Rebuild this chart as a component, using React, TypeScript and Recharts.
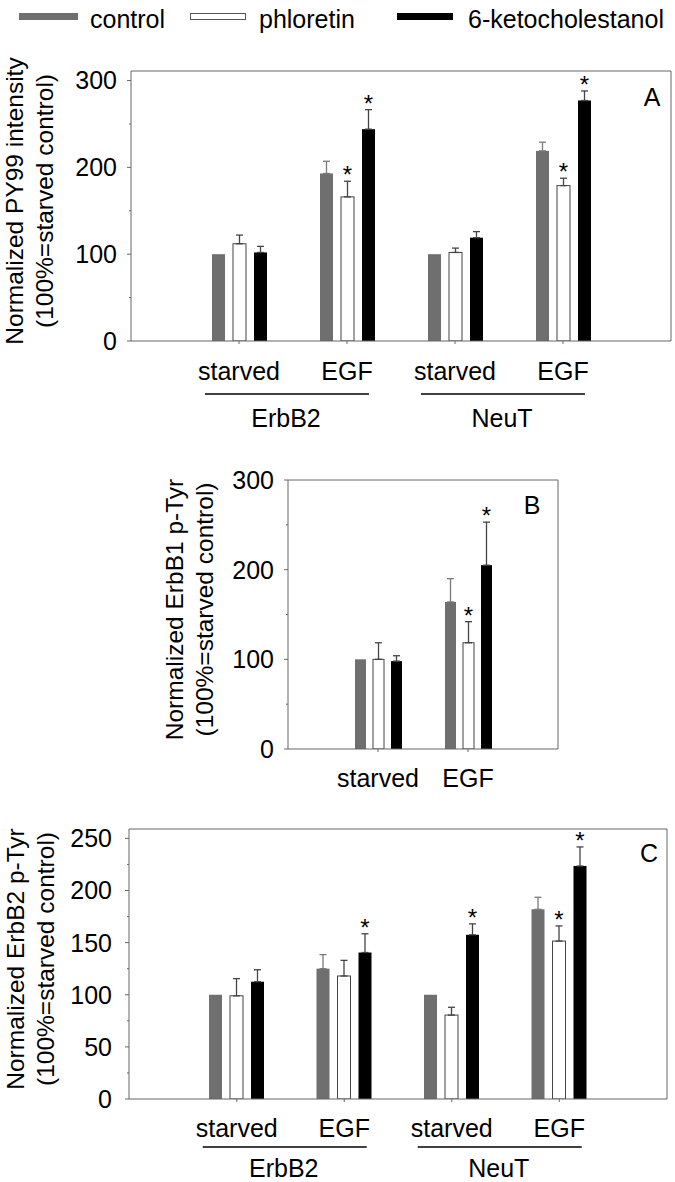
import React from 'react';
import { BarChart, Bar, XAxis, YAxis, ErrorBar, Label } from 'recharts';

const FONT = '"Liberation Sans", Arial, Helvetica, sans-serif';
const AXIS = '#666666';
const GRAY = '#6f6f6f';
const STRETCH = 1.0;
const TXT = 25;
const CHART_W = 675;

const seriesNames = ['control', 'phloretin', '6-ketocholestanol'];

// Panel A – Normalized PY99 intensity
const catsA = ['starved', 'EGF', 'starved', 'EGF'];
const groupsA = ['ErbB2', 'NeuT'];
const controlA = [100, 193, 100, 219];
const controlErrA = [null, 14, null, 10];
const phloretinA = [112, 166, 102, 179];
const phloretinErrA = [10, 18, 5, 8.5];
const ketoA = [102, 244, 119, 277];
const ketoErrA = [7, 22.5, 7, 11];
const phloretinSigA = [false, true, false, true];
const ketoSigA = [false, true, false, true];
const ticksA = [0, 50, 100, 150, 200, 250, 300];

// Panel B – Normalized ErbB1 p-Tyr
const catsB = ['starved', 'EGF'];
const controlB = [100, 164];
const controlErrB = [null, 26];
const phloretinB = [100, 118.5];
const phloretinErrB = [18.5, 23.5];
const ketoB = [98, 205];
const ketoErrB = [6, 48];
const phloretinSigB = [false, true];
const ketoSigB = [false, true];
const ticksB = [0, 50, 100, 150, 200, 250, 300];

// Panel C – Normalized ErbB2 p-Tyr
const catsC = ['starved', 'EGF', 'starved', 'EGF'];
const groupsC = ['ErbB2', 'NeuT'];
const controlC = [100, 125, 100, 182];
const controlErrC = [null, 13.5, null, 11.5];
const phloretinC = [99, 118, 80.5, 151.5];
const phloretinErrC = [16.5, 15, 7.5, 14.5];
const ketoC = [112.5, 140.5, 157.5, 223.5];
const ketoErrC = [11.5, 18, 10.5, 18.3];
const phloretinSigC = [false, false, false, true];
const ketoSigC = [false, true, true, true];
const ticksC = [0, 25, 50, 75, 100, 125, 150, 175, 200, 225, 250];

function buildRows(
  cats: string[], ctrl: number[], ctrlErr: (number | null)[],
  phl: number[], phlErr: number[], keto: number[], ketoErr: number[],
  phlSig: boolean[], ketoSig: boolean[]
) {
  return cats.map((cat, i) => ({
    cat,
    control: ctrl[i],
    controlErr: ctrlErr[i] == null ? null : [0, ctrlErr[i]],
    controlSig: false,
    phloretin: phl[i],
    phloretinErr: [0, phlErr[i]],
    phloretinSig: phlSig[i],
    keto: keto[i],
    ketoErr: [0, ketoErr[i]],
    ketoSig: ketoSig[i],
  }));
}

const rowsA = buildRows(catsA, controlA, controlErrA, phloretinA, phloretinErrA, ketoA, ketoErrA, phloretinSigA, ketoSigA);
const rowsB = buildRows(catsB, controlB, controlErrB, phloretinB, phloretinErrB, ketoB, ketoErrB, phloretinSigB, ketoSigB);
const rowsC = buildRows(catsC, controlC, controlErrC, phloretinC, phloretinErrC, ketoC, ketoErrC, phloretinSigC, ketoSigC);

const SText = ({ x, y, size, anchor = 'middle', children }: any) => (
  <text
    transform={`translate(${x},${y}) scale(${STRETCH},1)`}
    x={0}
    y={0}
    fontSize={size}
    fontFamily={FONT}
    textAnchor={anchor}
    fill="#000"
  >
    {children}
  </text>
);

const makeShape = (key: string, fill: string, stroke?: string) => (props: any) => {
  const { x, y, width, height, payload } = props;
  const v = payload[key];
  const err = payload[key + 'Err'];
  const sig = payload[key + 'Sig'];
  const ppu = v ? height / v : 0;
  const errTop = y - (err ? err[1] : 0) * ppu;
  return (
    <g>
      <rect
        x={x}
        y={y}
        width={width}
        height={height}
        fill={fill}
        stroke={stroke || 'none'}
        strokeWidth={1}
      />
      {sig && (
        <text
          x={x + width / 2}
          y={errTop + 2}
          textAnchor="middle"
          fontSize={24}
          fontFamily={FONT}
          fill="#000"
        >
          *
        </text>
      )}
    </g>
  );
};

const makeYTick = (labelStep: number, gap: number) => (props: any) => {
  const { x, y, payload } = props;
  const major = payload.value % labelStep === 0;
  return (
    <g>
      <line x1={x - (major ? 4 : 2)} x2={x} y1={y} y2={y} stroke={AXIS} strokeWidth={1} />
      {major && (
        <SText x={x - gap} y={y + 8.9} size={TXT} anchor="end">
          {payload.value}
        </SText>
      )}
    </g>
  );
};

const makeXTick = (opts: { labelDy: number; lineDy?: number; groupDy?: number; groups?: string[] }) => (props: any) => {
  const { x, y, payload, index } = props;
  const showGroup = opts.groups && index % 2 === 0;
  return (
    <g>
      <line x1={x} x2={x} y1={y} y2={y + 3} stroke={AXIS} strokeWidth={1} />
      <SText x={x} y={y + opts.labelDy} size={TXT}>
        {payload.value}
      </SText>
      {showGroup && (
        <g>
          <line
            x1={x - 34}
            x2={x + 130}
            y1={y + (opts.lineDy || 0)}
            y2={y + (opts.lineDy || 0)}
            stroke="#000"
            strokeWidth={1.3}
          />
          <SText x={x + 47} y={y + (opts.groupDy || 0)} size={TXT}>
            {opts.groups![index / 2]}
          </SText>
        </g>
      )}
    </g>
  );
};

// y-axis title (two rotated lines) plus the top/right frame of the plot and the panel letter
const yLabelContent = (
  lines: string[], off: number, plotRight: number,
  letter: string, letterDx: number, letterDy: number
) => (props: any) => {
  const vb = props.viewBox;
  const axisX = vb.x + vb.width;
  const cx = axisX + off;
  const cy = vb.y + vb.height / 2 - 5;
  return (
    <g>
      <line x1={axisX} x2={plotRight} y1={vb.y} y2={vb.y} stroke={AXIS} strokeWidth={1} />
      <line x1={plotRight} x2={plotRight} y1={vb.y} y2={vb.y + vb.height} stroke={AXIS} strokeWidth={1} />
      <SText x={plotRight + letterDx} y={vb.y + letterDy} size={25}>
        {letter}
      </SText>
      <text
        transform={`translate(${cx},${cy}) rotate(-90)`}
        fontSize={24.5}
        fontFamily={FONT}
        textAnchor="middle"
        fill="#000"
      >
        <tspan x={0} y={0}>{lines[0]}</tspan>
        <tspan x={0} y={30}>{lines[1]}</tspan>
      </text>
    </g>
  );
};

type PanelProps = {
  rows: any[];
  height: number;
  margin: { top: number; right: number; left: number; bottom: number };
  yWidth: number;
  xHeight: number;
  domain: [number, number];
  ticks: number[];
  labelStep: number;
  tickGap: number;
  yLines: string[];
  yLabelOff: number;
  pad: number;
  barSize: number;
  barGap: number;
  xOpts: { labelDy: number; lineDy?: number; groupDy?: number; groups?: string[] };
  letter: string;
  letterDx: number;
  letterDy: number;
};

function Panel(p: PanelProps) {
  const plotRight = CHART_W - p.margin.right;
  return (
    <BarChart width={CHART_W} height={p.height} data={p.rows} margin={p.margin} barGap={p.barGap}>
      <XAxis
        dataKey="cat"
        height={p.xHeight}
        padding={{ left: p.pad, right: p.pad }}
        axisLine={{ stroke: AXIS, strokeWidth: 1 }}
        tickLine={false}
        tickSize={0}
        tickMargin={0}
        interval={0}
        tick={makeXTick(p.xOpts)}
      />
      <YAxis
        width={p.yWidth}
        domain={p.domain}
        ticks={p.ticks}
        interval={0}
        allowDataOverflow
        axisLine={{ stroke: AXIS, strokeWidth: 1 }}
        tickLine={false}
        tickSize={0}
        tickMargin={0}
        tick={makeYTick(p.labelStep, p.tickGap)}
      >
        <Label
          content={yLabelContent(p.yLines, p.yLabelOff, plotRight, p.letter, p.letterDx, p.letterDy)}
        />
      </YAxis>
      <Bar
        dataKey="control"
        name={seriesNames[0]}
        barSize={p.barSize}
        fill={GRAY}
        isAnimationActive={false}
        shape={makeShape('control', GRAY)}
      >
        <ErrorBar dataKey="controlErr" width={3.5} stroke="#7a7a7a" strokeWidth={1.3} direction="y" />
      </Bar>
      <Bar
        dataKey="phloretin"
        name={seriesNames[1]}
        barSize={p.barSize}
        fill="#ffffff"
        isAnimationActive={false}
        shape={makeShape('phloretin', '#ffffff', '#444444')}
      >
        <ErrorBar dataKey="phloretinErr" width={3.5} stroke="#444444" strokeWidth={1.3} direction="y" />
      </Bar>
      <Bar
        dataKey="keto"
        name={seriesNames[2]}
        barSize={p.barSize}
        fill="#000000"
        isAnimationActive={false}
        shape={makeShape('keto', '#000000')}
      >
        <ErrorBar dataKey="ketoErr" width={3.5} stroke="#444444" strokeWidth={1.3} direction="y" />
      </Bar>
    </BarChart>
  );
}

function LegendRow() {
  const fs = 25;
  return (
    <svg width={675} height={36} style={{ position: 'absolute', left: 0, top: 0 }}>
      <rect x={19} y={13} width={59} height={7} fill={GRAY} />
      <text x={90} y={28} fontSize={fs} fontFamily={FONT} fill="#000">{seriesNames[0]}</text>
      <rect x={190.5} y={13.5} width={55} height={6} fill="#fff" stroke="#555" strokeWidth={1} />
      <text x={259} y={28} fontSize={fs} fontFamily={FONT} fill="#000">{seriesNames[1]}</text>
      <rect x={397} y={13} width={56} height={7} fill="#000" />
      <text x={468} y={28} fontSize={fs} fontFamily={FONT} fill="#000">{seriesNames[2]}</text>
    </svg>
  );
}

export default function App() {
  return (
    <div
      style={{
        position: 'absolute',
        left: 0,
        top: 0,
        width: 675,
        height: 1182,
        background: '#ffffff',
        overflow: 'hidden',
      }}
    >
      <div style={{ position: 'absolute', left: 0, top: 0 }}>
        <Panel
          rows={rowsA}
          height={440}
          margin={{ top: 71, right: 4, left: 0, bottom: 0 }}
          yWidth={131}
          xHeight={99}
          domain={[0, 311]}
          ticks={ticksA}
          labelStep={100}
          tickGap={14}
          yLines={['Normalized PY99 intensity', '(100%=starved control)']}
          yLabelOff={-108}
          pad={54}
          barSize={13}
          barGap={8}
          xOpts={{ labelDy: 39, lineDy: 53, groupDy: 86, groups: groupsA }}
          letter="A"
          letterDx={-19}
          letterDy={35}
        />
      </div>
      <div style={{ position: 'absolute', left: 0, top: 450 }}>
        <Panel
          rows={rowsB}
          height={350}
          margin={{ top: 30, right: 117, left: 157, bottom: 0 }}
          yWidth={131}
          xHeight={51}
          domain={[0, 300]}
          ticks={ticksB}
          labelStep={100}
          tickGap={14}
          yLines={['Normalized ErbB1 p-Tyr', '(100%=starved control)']}
          yLabelOff={-105}
          pad={45}
          barSize={11}
          barGap={7}
          xOpts={{ labelDy: 38 }}
          letter="B"
          letterDx={-26}
          letterDy={34}
        />
      </div>
      <div style={{ position: 'absolute', left: 0, top: 800 }}>
        <Panel
          rows={rowsC}
          height={382}
          margin={{ top: 29, right: 8, left: 0, bottom: 0 }}
          yWidth={129}
          xHeight={83}
          domain={[0, 259]}
          ticks={ticksC}
          labelStep={50}
          tickGap={17}
          yLines={['Normalized ErbB2 p-Tyr', '(100%=starved control)']}
          yLabelOff={-105}
          pad={54}
          barSize={13}
          barGap={8}
          xOpts={{ labelDy: 38, lineDy: 48, groupDy: 78, groups: groupsC }}
          letter="C"
          letterDx={-18}
          letterDy={33}
        />
      </div>
      <LegendRow />
    </div>
  );
}
